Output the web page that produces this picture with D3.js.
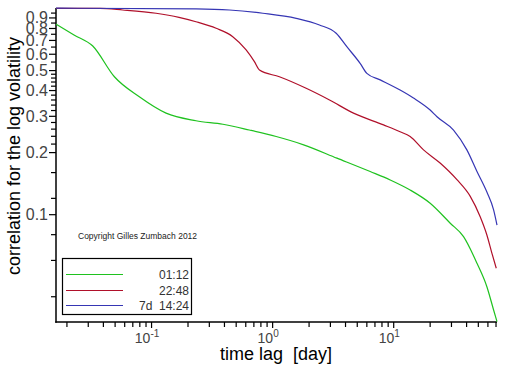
<!DOCTYPE html>
<html><head><meta charset="utf-8">
<script src="https://cdn.jsdelivr.net/npm/d3@7"></script>
<style>body{margin:0;background:#fff}svg{display:block}text{white-space:pre}</style>
</head><body>
<svg id="c" width="512" height="366"></svg>
<script>
// ---- data ----
const seriesNames = ["01:12", "22:48", "7d  14:24"];
const seriesColors = ["#1fc21f", "#b0102a", "#3636b4"];

const greenLag  = [0.0164, 0.0231, 0.033, 0.0498, 0.080, 0.133, 0.235, 0.392, 0.648, 1.08, 1.82, 3.43, 6.46, 9.45, 13.8, 20.2, 29.6, 38.1, 49.2, 59.4, 67.5, 72];
const greenCorr = [0.836, 0.740, 0.654, 0.464, 0.371, 0.309, 0.284, 0.273, 0.256, 0.238, 0.217, 0.187, 0.161, 0.1465, 0.131, 0.113, 0.0904, 0.0778, 0.0578, 0.0445, 0.0343, 0.0301];

const redLag  = [0.0164, 0.0379, 0.0583, 0.110, 0.170, 0.235, 0.345, 0.473, 0.610, 0.714, 0.786, 1.148, 1.91, 2.98, 4.70, 8.32, 11.4, 13.8, 17.8, 24.4, 33.6, 43.3, 52.3, 59.4, 65.4, 71.0];
const redCorr = [0.995, 0.995, 0.978, 0.943, 0.901, 0.858, 0.797, 0.726, 0.626, 0.549, 0.500, 0.464, 0.408, 0.358, 0.309, 0.271, 0.251, 0.238, 0.205, 0.177, 0.147, 0.122, 0.0972, 0.0793, 0.0646, 0.0547];

const blueLag  = [0.0164, 0.235, 0.444, 0.838, 1.58, 2.46, 3.38, 4.14, 5.33, 6.06, 7.81, 11.4, 14.7, 20.2, 23.0, 31.5, 40.6, 49.2, 59.4, 67.5, 72];
const blueCorr = [0.998, 0.99, 0.978, 0.943, 0.891, 0.827, 0.754, 0.649, 0.539, 0.482, 0.448, 0.400, 0.366, 0.320, 0.297, 0.256, 0.205, 0.161, 0.128, 0.105, 0.0886];

const yMajorTicks = [0.1, 0.2, 0.3, 0.4, 0.5, 0.6, 0.7, 0.8, 0.9];
const yMinorTicks = [0.04, 0.06, 0.08, 0.12, 0.16, 0.22, 0.24, 0.26, 0.28, 0.32, 0.34, 0.36, 0.38, 0.42, 0.44, 0.46, 0.48, 0.55, 0.65, 0.75, 0.85, 0.95];
const xMajorTicks = [0.1, 1, 10];
const xExponents = ["-1", "0", "1"];
const xMinorTicks = [0.02,0.03,0.04,0.05,0.06,0.07,0.08,0.09, 0.2,0.3,0.4,0.5,0.6,0.7,0.8,0.9, 2,3,4,5,6,7,8,9, 20,30,40,50,60,70];

const xTitle = "time lag  [day]";
const yTitle = "correlation for the log volatility";
const copyright = "Copyright Gilles Zumbach 2012";

// ---- drawing ----
const svg = d3.select("#c");
const L = 56, R = 497, T = 8, B = 322;
const FONT = "Liberation Sans, Arial, sans-serif";
const x = d3.scaleLog().domain([0.0164, 72]).range([L, R]);
const y = d3.scaleLog().domain([0.03, 1]).range([B, T]);

const series = [
  {lag: greenLag, corr: greenCorr},
  {lag: redLag, corr: redCorr},
  {lag: blueLag, corr: blueCorr}
];

// axes
const xAxisMinor = d3.axisBottom(x).tickValues(xMinorTicks).tickSize(5).tickFormat("");
const xAxisMajor = d3.axisBottom(x).tickValues(xMajorTicks).tickSize(6).tickFormat("");
const yAxisMinor = d3.axisLeft(y).tickValues(yMinorTicks).tickSize(5).tickFormat("");
const yAxisMajor = d3.axisLeft(y).tickValues(yMajorTicks).tickSize(7).tickFormat("");

function style(g){ g.select(".domain").remove(); g.selectAll("line").attr("stroke","#000").attr("stroke-width",1.2); }
svg.append("g").attr("transform",`translate(0,${B})`).call(xAxisMinor).call(style);
svg.append("g").attr("transform",`translate(0,${B})`).call(xAxisMajor).call(style);
svg.append("g").attr("transform",`translate(${L},0)`).call(yAxisMinor).call(style);
svg.append("g").attr("transform",`translate(${L},0)`).call(yAxisMajor).call(style);

svg.append("line").attr("x1",L).attr("x2",L).attr("y1",T).attr("y2",B+0.75).attr("stroke","#000").attr("stroke-width",1.5);
svg.append("line").attr("x1",L-0.75).attr("x2",R).attr("y1",B).attr("y2",B).attr("stroke","#000").attr("stroke-width",1.5);

// y tick labels
svg.append("g").selectAll("text").data(yMajorTicks).join("text")
  .attr("x", L-8).attr("y", d=>y(d)).attr("dy","0.36em")
  .attr("text-anchor","end").attr("font-family",FONT)
  .attr("font-size",16).attr("fill","#444").text(d=>d3.format(".1f")(d));

// x tick labels with superscripts
const xl = svg.append("g").selectAll("text").data(xMajorTicks).join("text")
  .attr("x", d=>x(d)-4).attr("y", 343)
  .attr("text-anchor","middle").attr("font-family",FONT)
  .attr("font-size",14).attr("fill","#444");
xl.append("tspan").text("10");
xl.append("tspan").attr("font-size",10).attr("dy",-6).text((d,i)=>xExponents[i]);

// titles
svg.append("text").attr("x",276).attr("y",360).attr("text-anchor","middle")
  .attr("font-family",FONT).attr("font-size",18).attr("fill","#000").text(xTitle);
svg.append("text").attr("transform","translate(20,156) rotate(-90)").attr("text-anchor","middle")
  .attr("font-family",FONT).attr("font-size",18).attr("fill","#000").text(yTitle);

// lines
const line = d3.line().x(d=>x(d[0])).y(d=>y(d[1])).curve(d3.curveMonotoneX);
svg.append("g").selectAll("path").data(series).join("path")
  .attr("d", s=>line(s.lag.map((v,i)=>[v, s.corr[i]])))
  .attr("fill","none").attr("stroke",(s,i)=>seriesColors[i]).attr("stroke-width",1.2)
  .attr("stroke-linejoin","round");

// copyright
svg.append("text").attr("x",78).attr("y",239).attr("font-family",FONT)
  .attr("font-size",8.5).attr("fill","#222").text(copyright);

// legend
const lg = svg.append("g");
lg.append("rect").attr("x",62.5).attr("y",258.5).attr("width",129).attr("height",56)
  .attr("fill","#fff").attr("stroke","#000").attr("stroke-width",1.2);
const rows = [274.5, 290.5, 305.5];
seriesNames.forEach((n,i)=>{
  lg.append("line").attr("x1",66).attr("x2",123).attr("y1",rows[i]).attr("y2",rows[i])
    .attr("stroke",seriesColors[i]).attr("stroke-width",1.2);
  lg.append("text").attr("x",189).attr("y",rows[i]+4).attr("text-anchor","end")
    .attr("font-family",FONT).attr("font-size",12)
    .attr("fill","#333").text(n);
});
</script>
</body></html>
